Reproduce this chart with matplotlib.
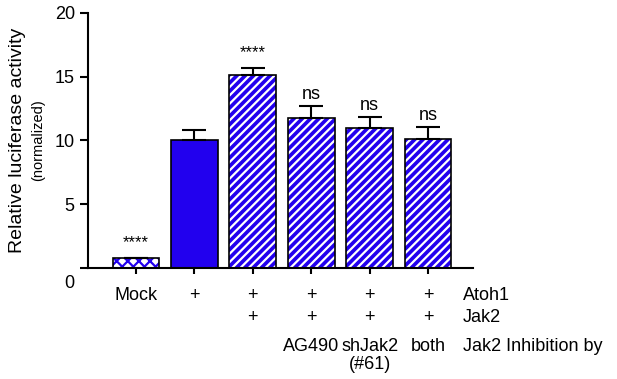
import matplotlib.pyplot as plt
from matplotlib.transforms import blended_transform_factory, ScaledTranslation

plt.rcParams['font.family'] = ['Liberation Sans', 'DejaVu Sans']
plt.rcParams['hatch.linewidth'] = 1.6

# values
groups = ["Mock", "Atoh1", "Atoh1+Jak2", "AG490", "shJak2", "both"]
means = [0.8, 10.05, 15.15, 11.8, 10.95, 10.15]
err_up = [0.0, 0.8, 0.55, 0.9, 0.9, 0.9]
signif = ["****", "", "****", "ns", "ns", "ns"]

row_atoh1 = ["Mock", "+", "+", "+", "+", "+"]
row_jak2 = ["", "", "+", "+", "+", "+"]
row_inhib = ["", "", "", "AG490", "shJak2\n(#61)", "both"]
row_names = ["Atoh1", "Jak2", "Jak2 Inhibition by"]

blue = "#2200ee"

fig = plt.figure(figsize=(6.17, 3.79), dpi=100)
ax = fig.add_axes([0.1426, 0.2929, 0.624, 0.6728])

x = list(range(len(groups)))
w = 0.8

# mock: blue diamonds on white
ax.bar(x[0], means[0], w, color="white", edgecolor=blue, hatch="xxx", linewidth=0)
# solid Atoh1 bar
ax.bar(x[1], means[1], w, color=blue, edgecolor="none")
# hatched bars: white diagonals on blue
ax.bar(x[2:], means[2:], w, color=blue, edgecolor="white", hatch="////", linewidth=0)
# black outlines + upper error bars
ax.bar(x, means, w, color="none", edgecolor="black", linewidth=1.2,
       yerr=[[0] * len(x), err_up],
       error_kw=dict(ecolor="black", elinewidth=1.5, capsize=8.5, capthick=1.5))

for xi, m, e, s in zip(x, means, err_up, signif):
    if not s:
        continue
    if s == "ns":
        ax.text(xi, m + e + 0.25, s, ha="center", va="bottom", fontsize=13)
    else:
        ax.text(xi, m + e + 0.6, s, ha="center", va="bottom", fontsize=12)

ax.set_xlim(-0.82, 5.77)
ax.set_ylim(0, 20)
ax.set_yticks([0, 5, 10, 15, 20])
ax.tick_params(axis="y", labelsize=13, length=6, width=1.5, direction="out")
ax.set_xticks(x)
ax.set_xticklabels([])
ax.tick_params(axis="x", length=4, width=1.5, direction="out")
for side in ["top", "right"]:
    ax.spines[side].set_visible(False)
for side in ["left", "bottom"]:
    ax.spines[side].set_linewidth(1.5)

# GraphPad-style: zero label sits below the baseline
lab0 = ax.get_yticklabels()[0]
lab0.set_transform(lab0.get_transform() + ScaledTranslation(0, -10 / 72, fig.dpi_scale_trans))

# condition rows under the axis
tr = blended_transform_factory(ax.transData, fig.transFigure)
for xi, a, j, inh in zip(x, row_atoh1, row_jak2, row_inhib):
    ax.text(xi, 0.2216, a, transform=tr, ha="center", va="center", fontsize=13, clip_on=False)
    if j:
        ax.text(xi, 0.161, j, transform=tr, ha="center", va="center", fontsize=13, clip_on=False)
    if inh:
        lines = inh.split("\n")
        ax.text(xi, 0.087, lines[0], transform=tr, ha="center", va="center", fontsize=13, clip_on=False)
        if len(lines) > 1:
            ax.text(xi, 0.037, lines[1], transform=tr, ha="center", va="center", fontsize=13, clip_on=False)

for name, yy in zip(row_names, [0.2216, 0.161, 0.087]):
    fig.text(463 / 617, yy, name, ha="left", va="center", fontsize=13)

fig.text(18 / 617, 0.63, "Relative luciferase activity", rotation=90,
         ha="center", va="center", fontsize=14)
fig.text(38 / 617, 0.63, "(normalized)", rotation=90, ha="center", va="center", fontsize=10.5)

fig.savefig("out.png", dpi=100)
